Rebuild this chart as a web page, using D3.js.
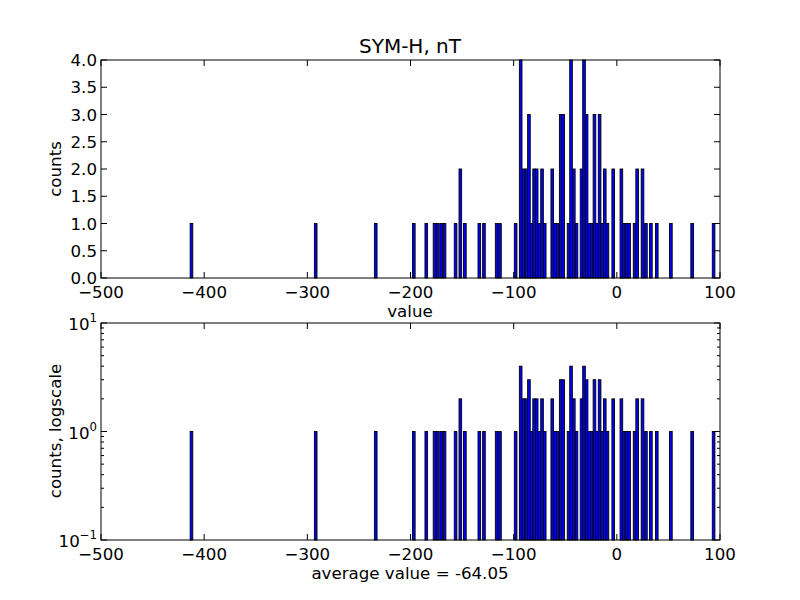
<!DOCTYPE html>
<html><head><meta charset="utf-8">
<script src="https://cdn.jsdelivr.net/npm/d3@7"></script>
<style>body{margin:0;background:#fff}svg{display:block}text{font-family:"DejaVu Sans",sans-serif;fill:#000}</style>
</head><body>
<svg id="c" width="800" height="600"></svg>
<script>
// histogram bin centers (SYM-H, nT) and counts
const binCenters = [-412.3,-291.9,-233.7,-196.8,-184.7,-176.7,-173.5,-170.2,-167.0,-156.3,-151.7,-147.3,-133.3,-128.8,-116.5,-113.3,
 -98.1,-93.2,-90.3,-87.8,-85.2,-82.7,-80.2,-77.7,-75.1,-72.5,-69.9,
 -62.6,-59.9,-57.3,-54.4,-52.0,-46.8,-44.4,-41.7,-39.1,-34.2,-31.8,-29.3,-26.7,-24.3,-21.7,-19.2,-16.7,-14.2,-11.7,-9.1,-3.5,
 4.4,6.8,9.4,11.9,17.2,19.7,24.9,28.2,33.0,38.7,52.4,73.0,93.8];
const counts = [1,1,1,1,1,1,1,1,1,1,2,1,1,1,1,1,
 1,4,2,2,3,1,2,2,1,2,1,
 2,1,1,3,3,1,4,2,1,2,4,3,1,1,3,1,3,1,2,1,2,
 2,1,1,1,1,2,2,1,1,1,1,1,1];
const binWidth = 2.55;
const xTicks = [-500,-400,-300,-200,-100,0,100];
const yTicksLin = [0,0.5,1,1.5,2,2.5,3,3.5,4];
const logExps = [-1,0,1];
const title = "SYM-H, nT";
const avgLabel = "average value = -64.05";

const svg = d3.select("#c");
const L=101, R=720;
const x = d3.scaleLinear().domain([-500,100]).range([L,R]);
const yTop = d3.scaleLinear().domain([0,4]).range([278,60]);
const yBot = d3.scaleLog().domain([0.1,10]).range([540,323]);
const FS = 16.67;
const data = binCenters.map((c,i)=>({c, n:counts[i]}));

function frame(y, top, bot){
  const g = svg.append("g");
  g.selectAll("rect").data(data).enter().append("rect")
    .attr("x", d=>x(d.c-binWidth/2)).attr("width", d=>x(d.c+binWidth/2)-x(d.c-binWidth/2))
    .attr("y", d=>y(d.n)).attr("height", d=>bot-y(d.n))
    .attr("fill","#0000ff").attr("stroke","#000").attr("stroke-width",0.9);
  xTicks.forEach(t=>{
    g.append("line").attr("x1",x(t)).attr("x2",x(t)).attr("y1",bot).attr("y2",bot-6).attr("stroke","#000");
    g.append("line").attr("x1",x(t)).attr("x2",x(t)).attr("y1",top).attr("y2",top+6).attr("stroke","#000");
    g.append("text").attr("x",x(t)).attr("y",bot+20).attr("text-anchor","middle").attr("font-size",FS)
      .text(t<0 ? "\u2212"+Math.abs(t) : String(t));
  });
  g.append("rect").attr("x",L).attr("y",top).attr("width",R-L).attr("height",bot-top)
    .attr("fill","none").attr("stroke","#000").attr("stroke-width",1);
  return g;
}

const g1 = frame(yTop, 60, 278);
yTicksLin.forEach(t=>{
  g1.append("line").attr("x1",L).attr("x2",L+6).attr("y1",yTop(t)).attr("y2",yTop(t)).attr("stroke","#000");
  g1.append("line").attr("x1",R).attr("x2",R-6).attr("y1",yTop(t)).attr("y2",yTop(t)).attr("stroke","#000");
  g1.append("text").attr("x",L-4).attr("y",yTop(t)+6).attr("text-anchor","end").attr("font-size",FS).text(t.toFixed(1));
});
svg.append("text").attr("x",410).attr("y",53).attr("text-anchor","middle").attr("font-size",20).text(title);
svg.append("text").attr("x",410).attr("y",317).attr("text-anchor","middle").attr("font-size",FS).text("value");
svg.append("text").attr("transform","translate(61,169) rotate(-90)").attr("text-anchor","middle").attr("font-size",FS).text("counts");

const g2 = frame(yBot, 323, 540);
logExps.forEach(e=>{
  const v = Math.pow(10,e);
  const yy = yBot(v);
  g2.append("line").attr("x1",L).attr("x2",L+6).attr("y1",yy).attr("y2",yy).attr("stroke","#000");
  g2.append("line").attr("x1",R).attr("x2",R-6).attr("y1",yy).attr("y2",yy).attr("stroke","#000");
  const t = g2.append("text").attr("x",L-4).attr("y",yy+7).attr("text-anchor","end").attr("font-size",FS);
  t.append("tspan").text("10");
  t.append("tspan").attr("dy",-8).attr("font-size",11.7).text(e<0 ? "\u2212"+Math.abs(e) : String(e));
});
[0.1,1].forEach(dec=>{
  for(let k=2;k<=9;k++){
    const yy = yBot(dec*k);
    g2.append("line").attr("x1",L).attr("x2",L+3).attr("y1",yy).attr("y2",yy).attr("stroke","#000");
    g2.append("line").attr("x1",R).attr("x2",R-3).attr("y1",yy).attr("y2",yy).attr("stroke","#000");
  }
});
svg.append("text").attr("x",410).attr("y",579).attr("text-anchor","middle").attr("font-size",FS).text(avgLabel);
svg.append("text").attr("transform","translate(61,431) rotate(-90)").attr("text-anchor","middle").attr("font-size",FS).text("counts, logscale");
</script>
</body></html>
